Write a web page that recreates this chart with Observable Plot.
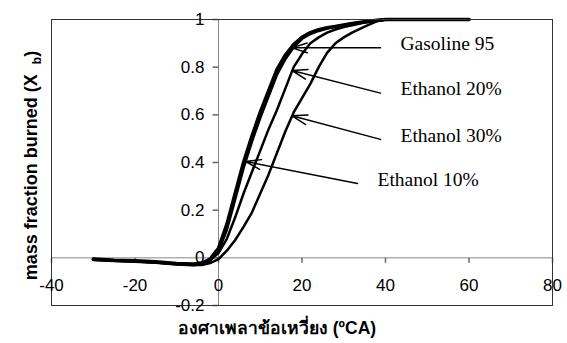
<!DOCTYPE html>
<html>
<head>
<meta charset="utf-8">
<script src="https://cdn.jsdelivr.net/npm/d3@7"></script>
<script src="https://cdn.jsdelivr.net/npm/@observablehq/plot@0.6"></script>
<style>
  body { margin: 0; background: #fff; }
  #chart svg { display: block; }
</style>
</head>
<body>
<div id="chart"></div>
<script>
// Crank angle (degrees CA) at which each burn curve is sampled
const angle = [-30, -25, -20, -15, -10, -6, -4, -2, 0, 2, 4, 6, 8, 10, 12, 14, 16, 18, 20, 22, 24, 26, 28, 30, 32, 35, 38, 40, 45, 50, 55, 60];

// Mass fraction burned for each fuel
const gasoline95 = [-0.005, -0.010, -0.012, -0.017, -0.024, -0.026, -0.022, -0.005, 0.04, 0.14, 0.27, 0.40, 0.51, 0.61, 0.70, 0.79, 0.85, 0.895, 0.925, 0.945, 0.957, 0.965, 0.971, 0.977, 0.983, 0.990, 0.997, 1, 1, 1, 1, 1];
const ethanol10  = [-0.008, -0.012, -0.015, -0.020, -0.027, -0.030, -0.026, -0.010, 0.03, 0.12, 0.25, 0.38, 0.49, 0.59, 0.68, 0.77, 0.835, 0.885, 0.920, 0.940, 0.953, 0.963, 0.970, 0.976, 0.982, 0.990, 0.996, 1, 1, 1, 1, 1];
const ethanol20  = [-0.005, -0.010, -0.013, -0.018, -0.024, -0.027, -0.024, -0.010, 0.02, 0.08, 0.17, 0.27, 0.36, 0.45, 0.54, 0.62, 0.71, 0.80, 0.855, 0.900, 0.925, 0.945, 0.958, 0.968, 0.976, 0.987, 0.995, 1, 1, 1, 1, 1];
const ethanol30  = [-0.008, -0.012, -0.015, -0.020, -0.027, -0.030, -0.030, -0.022, -0.005, 0.03, 0.075, 0.13, 0.19, 0.27, 0.35, 0.44, 0.53, 0.61, 0.67, 0.73, 0.80, 0.86, 0.90, 0.925, 0.945, 0.970, 0.993, 1, 1, 1, 1, 1];

const seriesNames = ["Gasoline 95", "Ethanol 10%", "Ethanol 20%", "Ethanol 30%"];
const seriesValues = [gasoline95, ethanol10, ethanol20, ethanol30];

// Axis ticks and their labels
const xTicks = [-40, -20, 0, 20, 40, 60, 80];
const xTickLabels = ["-40", "-20", "0", "20", "40", "60", "80"];
const yTicks = [-0.2, 0, 0.2, 0.4, 0.6, 0.8, 1];
const yTickLabels = ["-0.2", "0", "0.2", "0.4", "0.6", "0.8", "1"];

// Callouts: label, where the leader starts, and the point on the curve it points to
const calloutLabels = ["Gasoline 95", "Ethanol 20%", "Ethanol 30%", "Ethanol 10%"];
const calloutFrom = [[38.8, 0.881], [38.8, 0.691], [38.8, 0.497], [33.3, 0.312]];
const calloutTo = [[17.6, 0.881], [17.6, 0.786], [17.6, 0.596], [6.5, 0.404]];

const xTitle = "องศาเพลาข้อเหวี่ยง (ºCA)";
const yTitle = "mass fraction burned (X b)";

// Line weights per series
const lineWidth = {"Gasoline 95": 3.6, "Ethanol 10%": 3.0, "Ethanol 20%": 2.5, "Ethanol 30%": 2.5};

const rows = seriesNames.flatMap((name, s) =>
  angle.map((a, i) => ({series: name, angle: a, xb: seriesValues[s][i]}))
);
const callouts = calloutLabels.map((label, i) => ({
  label, x1: calloutFrom[i][0], y1: calloutFrom[i][1], x2: calloutTo[i][0], y2: calloutTo[i][1]
}));

// Short tick strokes drawn as symbols at the axis crossing
const leftTick = {draw(ctx) { ctx.moveTo(-6, 0); ctx.lineTo(0, 0); }};
const downTick = {draw(ctx) { ctx.moveTo(0, 0); ctx.lineTo(0, 5); }};

const sans = "'Liberation Sans', Arial, sans-serif";
const serif = "'Liberation Serif', 'Times New Roman', serif";

const plot = Plot.plot({
  width: 567,
  height: 343,
  marginLeft: 51,
  marginRight: 15,
  marginTop: 19,
  marginBottom: 38,
  x: {domain: [-40, 80], axis: null},
  y: {domain: [-0.2, 1], axis: null},
  style: {fontFamily: sans, background: "white", color: "black"},
  marks: [
    Plot.ruleY([0], {stroke: "#888", strokeWidth: 1}),
    Plot.ruleX([0], {stroke: "#888", strokeWidth: 1}),
    Plot.dot(yTicks, {x: 0, y: d => d, symbol: leftTick, r: 6, stroke: "#666", fill: "none"}),
    Plot.dot(xTicks, {x: d => d, y: 0, symbol: downTick, r: 6, stroke: "#666", fill: "none"}),
    ...seriesNames.map(name =>
      Plot.line(rows.filter(d => d.series === name), {
        x: "angle", y: "xb", stroke: "black", strokeWidth: lineWidth[name],
        strokeLinejoin: "round", strokeLinecap: "round"
      })
    ),
    Plot.arrow(callouts, {
      x1: "x1", y1: "y1", x2: "x2", y2: "y2",
      stroke: "black", strokeWidth: 1.5, headLength: 16, headAngle: 36
    }),
    Plot.text(callouts, {
      x: "x1", y: "y1", text: "label", textAnchor: "start", dx: 20, dy: -4,
      fontFamily: serif, fontSize: 19.5, fill: "black"
    }),
    Plot.frame({stroke: "#333", strokeWidth: 1}),
    Plot.text(yTicks, {
      x: 0, y: d => d, text: (d, i) => yTickLabels[i], textAnchor: "end", dx: -14,
      fontSize: 17, fill: "black"
    }),
    Plot.text(xTicks, {
      x: d => d, y: 0, text: (d, i) => xTickLabels[i], dy: 28, fontSize: 17, fill: "black"
    }),
    Plot.text([yTitle], {
      frameAnchor: "left", dx: -14.5, dy: 3, rotate: -90,
      textAnchor: "middle", lineAnchor: "bottom",
      fontWeight: "bold", fontSize: 18, fill: "black"
    }),
    Plot.text([xTitle], {
      frameAnchor: "bottom", dx: -25, dy: 23, textAnchor: "middle", lineAnchor: "middle",
      fontWeight: "bold", fontSize: 17.5, fill: "black"
    })
  ]
});

document.getElementById("chart").appendChild(plot);

// Set the "b" of X_b as a subscript
d3.select(plot).selectAll("text")
  .filter(function () { return this.textContent === yTitle; })
  .each(function () {
    const t = d3.select(this);
    t.text(null);
    t.append("tspan").text("mass fraction burned (X  ");
    t.append("tspan").attr("font-size", 12).attr("dy", 4).text("b");
    t.append("tspan").attr("dy", -4).text(")");
  });
</script>
</body>
</html>
